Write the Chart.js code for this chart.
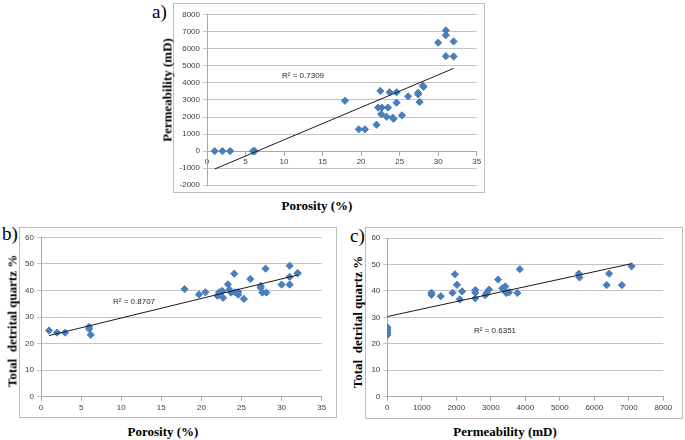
<!DOCTYPE html>
<html>
<head>
<meta charset="utf-8">
<script src="https://cdn.jsdelivr.net/npm/chart.js@4.4.0/dist/chart.umd.min.js"></script>
<style>
  body { margin: 0; background: #fff; width: 685px; height: 440px; position: relative; overflow: hidden; }
  .box { position: absolute; border: 1px solid #bdbdbd; box-sizing: border-box; }
  canvas { position: absolute; }
  .t { position: absolute; font-family: "Liberation Serif", "Times New Roman", serif; font-weight: bold; font-size: 13px; color: #000; white-space: nowrap; line-height: 1; }
  .h { transform: translate(-50%, -50%); }
  .v { transform: translate(-50%, -50%) rotate(-90deg); }
  .lbl { position: absolute; font-family: "Liberation Serif", "Times New Roman", serif; font-size: 19px; line-height: 1; color: #000; }
  .r2 { position: absolute; font-family: "Liberation Sans", Arial, sans-serif; font-size: 8px; color: #262626; white-space: nowrap; line-height: 1; transform: translateY(-50%); }
</style>
</head>
<body>
<div class="box" style="left:173px;top:3px;width:312px;height:190px"></div>
<div class="box" style="left:19px;top:227px;width:318px;height:191px"></div>
<div class="box" style="left:365px;top:227px;width:318px;height:192px"></div>

<canvas id="chartA" width="312" height="190" style="left:173px;top:3px"></canvas>
<canvas id="chartB" width="318" height="191" style="left:19px;top:227px"></canvas>
<canvas id="chartC" width="318" height="192" style="left:365px;top:227px"></canvas>

<div class="lbl" style="left:152px;top:2px">a)</div>
<div class="lbl" style="left:2px;top:224px">b)</div>
<div class="lbl" style="left:350px;top:226px">c)</div>

<div class="t v" style="left:167px;top:90px">Permeability (mD)</div>
<div class="t h" style="left:317px;top:205px">Porosity (%)</div>
<div class="t v" style="left:12px;top:321px">Total&nbsp; detrital quartz %</div>
<div class="t h" style="left:163px;top:431px">Porosity (%)</div>
<div class="t v" style="left:357px;top:322px">Total&nbsp; detrital quartz %</div>
<div class="t h" style="left:505px;top:431px">Permeability (mD)</div>

<div class="r2" style="left:282px;top:76px">R² = 0.7309</div>
<div class="r2" style="left:113px;top:302px">R² = 0.8707</div>
<div class="r2" style="left:474px;top:331px">R² = 0.6351</div>

<script>
// one entry per sample, same order in every array
const porosity = [1.0, 2.0, 3.0, 6.0, 6.0, 6.2, 17.9, 19.7, 20.5, 22.0, 22.2, 22.5, 22.6, 22.7,
  23.3, 23.5, 23.7, 24.1, 24.2, 24.6, 24.6, 25.3, 26.1, 27.4, 27.4, 27.6, 28.0, 28.1,
  30.0, 31.0, 31.0, 31.0, 32.0, 32.0];
const permeability = [0, 0, 0, 0, 0, 0, 2950, 1280, 1280, 1550, 2550, 3530, 2170, 2550,
  2020, 2550, 3450, 1960, 1890, 3450, 2840, 2100, 3210, 3330, 3420, 2880, 3840, 3770,
  6360, 7080, 6800, 5570, 6430, 5550];
const quartz = [24.9, 24.1, 24.1, 26.3, 25.5, 23.3, 40.5, 38.5, 39.3, 38.0, 39.3, 39.5, 39.8, 37.2,
  42.3, 40.3, 39.2, 46.3, 39.3, 39.4, 38.4, 36.8, 44.3, 41.0, 41.7, 39.2, 48.2, 39.2,
  42.2, 49.3, 42.2, 45.1, 46.5, 46.5];

// linear trendline end points (x, y) as drawn in each panel
const trendPorPerm = [[1, -1050], [32, 4850]];
const trendPorQtz = [[1, 23.0], [32, 45.8]];
const trendPermQtz = [[0, 30.3], [7080, 50.3]];

const pairs = (xs, ys) => xs.map((x, i) => ({ x: x, y: ys[i] }));
const line = arr => arr.map(p => ({ x: p[0], y: p[1] }));

const gridGrey = '#c4c4c4';
const axisGrey = '#a8a8a8';
const tickFont = { family: 'Liberation Sans', size: 8 };
const plain = v => String(v);

function scatter(id, pts, trend, xr, yr, layout, xAtZero) {
  const ctx = document.getElementById(id).getContext('2d');
  return new Chart(ctx, {
    type: 'scatter',
    data: {
      datasets: [
        {
          data: pts,
          pointStyle: 'rectRot',
          pointRadius: 3.6,
          backgroundColor: '#4a7ebb',
          borderColor: '#4a7ebb',
          borderWidth: 1,
          order: 1
        },
        {
          type: 'line',
          data: trend,
          borderColor: '#1a1a1a',
          borderWidth: 1,
          pointRadius: 0,
          fill: false,
          order: 0
        }
      ]
    },
    options: {
      responsive: false,
      animation: false,
      plugins: { legend: { display: false }, tooltip: { enabled: false } },
      layout: { padding: layout.pad },
      scales: {
        x: {
          type: 'linear',
          position: xAtZero ? { y: 0 } : 'bottom',
          min: xr[0], max: xr[1],
          ticks: { stepSize: xr[2], color: '#404040', font: tickFont, padding: 2, maxRotation: 0, callback: plain },
          grid: { drawOnChartArea: false, drawTicks: true, tickLength: 4, color: axisGrey },
          border: { color: axisGrey },
          afterFit: s => { if (!xAtZero) s.height = layout.xh; }
        },
        y: {
          min: yr[0], max: yr[1],
          ticks: { stepSize: yr[2], color: '#404040', font: tickFont, padding: 3, callback: plain },
          grid: { color: gridGrey, tickLength: 4 },
          border: { color: axisGrey },
          afterFit: s => { s.width = layout.yw; }
        }
      }
    }
  });
}

scatter('chartA', pairs(porosity, permeability), line(trendPorPerm),
  [0, 35, 5], [-2000, 8000, 1000],
  { pad: { left: 0, top: 11.7, right: 8.3, bottom: 7.3 }, yw: 34 }, true);

scatter('chartB', pairs(porosity, quartz), line(trendPorQtz),
  [0, 35, 5], [0, 60, 10],
  { pad: { left: 0, top: 10.3, right: 15.3, bottom: 0 }, yw: 22, xh: 21.3 }, false);

scatter('chartC', pairs(permeability, quartz), line(trendPermQtz),
  [0, 8000, 1000], [0, 60, 10],
  { pad: { left: 0, top: 11, right: 19.7, bottom: 0 }, yw: 22.3, xh: 22.3 }, false);
</script>
</body>
</html>
